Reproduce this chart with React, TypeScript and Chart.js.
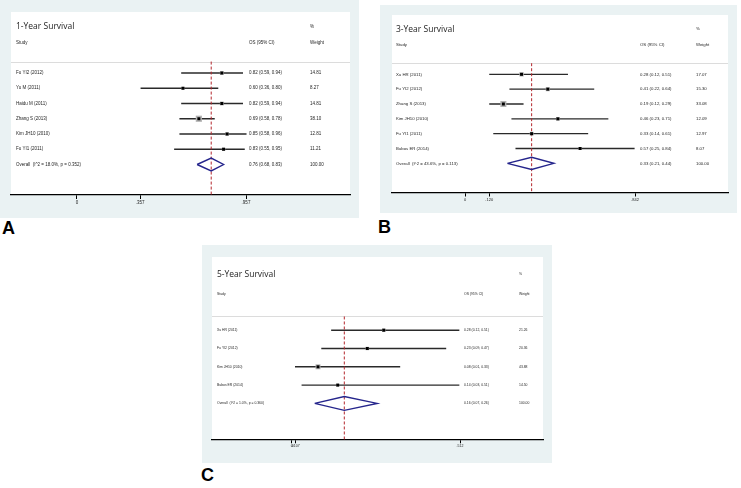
import React, { useEffect, useRef } from "react";
import { Chart, registerables } from "chart.js";

Chart.register(...registerables);

// ---------- Panel A: 1-Year Survival ----------
const A_TITLE = "1-Year Survival";
const A_STUDIES = ["Fu YI2 (2012)", "Yu M (2011)", "Haidu M (2011)", "Zhang S (2013)", "Kim JH10 (2010)", "Fu YI1 (2011)"];
const A_OS = [0.82, 0.6, 0.82, 0.69, 0.85, 0.83];
const A_LO = [0.59, 0.36, 0.59, 0.58, 0.58, 0.55];
const A_HI = [0.94, 0.8, 0.94, 0.78, 0.96, 0.95];
const A_WEIGHT = [14.81, 8.27, 14.81, 38.1, 12.81, 11.21];
const A_OVERALL = [0.76, 0.68, 0.83];
const A_OVERALL_LABEL = "Overall  (I^2 = 18.0%, p = 0.352)";
const A_TICKS = [0, 0.357, 0.957];
const A_TICK_LABELS = ["0", ".357", ".957"];

// ---------- Panel B: 3-Year Survival ----------
const B_TITLE = "3-Year Survival";
const B_STUDIES = ["Xu HR (2011)", "Fu YI2 (2012)", "Zhang S (2013)", "Kim JH10 (2010)", "Fu YI1 (2011)", "Bubos ER (2014)"];
const B_OS = [0.28, 0.41, 0.19, 0.46, 0.33, 0.57];
const B_LO = [0.12, 0.22, 0.12, 0.23, 0.14, 0.25];
const B_HI = [0.51, 0.64, 0.29, 0.71, 0.61, 0.84];
const B_WEIGHT = [17.07, 15.3, 33.08, 12.09, 12.97, 8.07];
const B_OVERALL = [0.33, 0.21, 0.44];
const B_OVERALL_LABEL = "Overall  (I^2 = 43.6%, p = 0.113)";
const B_TICKS = [0, 0.12, 0.842];
const B_TICK_LABELS = ["0", ".120", ".842"];

// ---------- Panel C: 5-Year Survival ----------
const C_TITLE = "5-Year Survival";
const C_STUDIES = ["Xu HR (2011)", "Fu YI2 (2012)", "Kim JH10 (2010)", "Bubos ER (2014)"];
const C_OS = [0.28, 0.23, 0.08, 0.14];
const C_LO = [0.12, 0.09, 0.01, 0.03];
const C_HI = [0.51, 0.47, 0.33, 0.51];
const C_WEIGHT = [21.26, 20.36, 43.88, 14.5];
const C_OVERALL = [0.16, 0.07, 0.26];
const C_OVERALL_LABEL = "Overall  (I^2 = 1.0%, p = 0.360)";
const C_TICKS = [0, 0.0107, 0.512];
const C_TICK_LABELS = ["0", ".0107", ".512"];

const BG = "rgb(234,242,243)";
const TEXT_FONT = '"Liberation Sans", Arial, sans-serif';
const TITLE_FONT = '"Open Sans", "Noto Sans", sans-serif';

type Layout = {
  left: number; top: number; width: number; height: number;
  padL: number; padR: number; padT: number; axisH: number;
  xMin: number; xMax: number;
  osX: number; wX: number; textX: number;
  titleSize: number; textSize: number; tickSize: number; tickLen: number;
  boxK: number; diamondH: number;
};

type Spec = {
  title: string; studies: string[]; os: number[]; lo: number[]; hi: number[]; weight: number[];
  overall: number[]; overallLabel: string; ticks: number[]; tickLabels: string[]; layout: Layout;
};

const PANELS: Spec[] = [
  {
    title: A_TITLE, studies: A_STUDIES, os: A_OS, lo: A_LO, hi: A_HI, weight: A_WEIGHT,
    overall: A_OVERALL, overallLabel: A_OVERALL_LABEL, ticks: A_TICKS, tickLabels: A_TICK_LABELS,
    layout: { left: 0, top: 0, width: 359, height: 218, padL: 11, padR: 9, padT: 12, axisH: 23,
      xMin: -0.3737, xMax: 1.5459, osX: 238, wX: 299, textX: 5,
      titleSize: 8.5, textSize: 4.5, tickSize: 4.5, tickLen: 4, boxK: 1.0, diamondH: 0.42 },
  },
  {
    title: B_TITLE, studies: B_STUDIES, os: B_OS, lo: B_LO, hi: B_HI, weight: B_WEIGHT,
    overall: B_OVERALL, overallLabel: B_OVERALL_LABEL, ticks: B_TICKS, tickLabels: B_TICK_LABELS,
    layout: { left: 380, top: 5, width: 357, height: 208, padL: 12, padR: 9, padT: 10, axisH: 20,
      xMin: -0.3616, xMax: 1.3026, osX: 248, wX: 304, textX: 4,
      titleSize: 8.5, textSize: 4.3, tickSize: 4, tickLen: 3.5, boxK: 1.05, diamondH: 0.41 },
  },
  {
    title: C_TITLE, studies: C_STUDIES, os: C_OS, lo: C_LO, hi: C_HI, weight: C_WEIGHT,
    overall: C_OVERALL, overallLabel: C_OVERALL_LABEL, ticks: C_TICKS, tickLabels: C_TICK_LABELS,
    layout: { left: 202, top: 245, width: 350, height: 218, padL: 10, padR: 9, padT: 12, axisH: 23,
      xMin: -0.2425, xMax: 0.7645, osX: 252, wX: 307, textX: 5,
      titleSize: 8.5, textSize: 3.4, tickSize: 3.5, tickLen: 3.3, boxK: 0.75, diamondH: 0.38 },
  },
];

const TITLE_ROW = -3.05;
const HEADER_ROW = -2;
const SEP_ROW = -0.75;
const Y_TOP = -4;

function fmtCI(e: number, l: number, h: number) {
  return `${e.toFixed(2)} (${l.toFixed(2)}, ${h.toFixed(2)})`;
}

function ForestPanel({ spec }: { spec: Spec }) {
  const ref = useRef<HTMLCanvasElement>(null);
  const L = spec.layout;

  useEffect(() => {
    if (!ref.current) return;
    const n = spec.studies.length;
    const ovRow = n;
    const yMax = n + 2;
    const rows = spec.os.map((v, i) => ({ x: v, y: i }));
    const [ovE, ovL, ovH] = spec.overall;

    const datasets: any[] = [
      {
        label: "points", data: rows, pointStyle: "rect", pointRadius: 2.1, pointHoverRadius: 2.1,
        backgroundColor: "#000", borderWidth: 0, showLine: false, order: 0,
      },
      {
        label: "boxes", data: rows, pointStyle: "rect",
        pointRadius: spec.weight.map((w) => (L.boxK * Math.sqrt(w)) / Math.SQRT2),
        pointHoverRadius: spec.weight.map((w) => (L.boxK * Math.sqrt(w)) / Math.SQRT2),
        backgroundColor: "#b2b2b2", borderWidth: 0, showLine: false, order: 1,
      },
      {
        label: "overall", showLine: true, order: 1,
        data: [
          { x: ovL, y: ovRow }, { x: ovE, y: ovRow - L.diamondH }, { x: ovH, y: ovRow },
          { x: ovE, y: ovRow + L.diamondH }, { x: ovL, y: ovRow },
        ],
        borderColor: "#25258c", borderWidth: 1.4, pointRadius: 0, fill: false, tension: 0,
        borderJoinStyle: "miter",
      },
      {
        label: "ref", showLine: true, order: 1.5,
        data: [{ x: ovE, y: SEP_ROW }, { x: ovE, y: yMax }],
        borderColor: "#b3262c", borderWidth: 1, borderDash: [3, 2], pointRadius: 0,
      },
    ];
    spec.lo.forEach((lo, i) => {
      datasets.push({
        label: "ci" + i, showLine: true, order: 2,
        data: [{ x: lo, y: i }, { x: spec.hi[i], y: i }],
        borderColor: "#2a2a2a", borderWidth: 1.4, pointRadius: 0,
      });
    });

    const plugin = {
      id: "forestText",
      beforeDraw(chart: any) {
        const { ctx, chartArea: ca, width, height } = chart;
        ctx.save();
        ctx.fillStyle = BG;
        ctx.fillRect(0, 0, width, height);
        ctx.fillStyle = "#fff";
        ctx.fillRect(ca.left, ca.top, ca.right - ca.left, ca.bottom - ca.top);
        const ys = Math.round(chart.scales.y.getPixelForValue(SEP_ROW)) + 0.5;
        ctx.strokeStyle = "#dcdcdc";
        ctx.lineWidth = 1;
        ctx.beginPath();
        ctx.moveTo(ca.left, ys);
        ctx.lineTo(ca.right, ys);
        ctx.stroke();
        ctx.restore();
      },
      afterDraw(chart: any) {
        const { ctx, chartArea: ca } = chart;
        const y = (r: number) => chart.scales.y.getPixelForValue(r);
        const xT = ca.left + L.textX;
        const xO = ca.left + L.osX;
        const xW = ca.left + L.wX;
        ctx.save();
        ctx.textBaseline = "middle";
        ctx.textAlign = "left";
        ctx.fillStyle = "#1e1e1e";
        ctx.font = `${L.titleSize}px ${TITLE_FONT}`;
        ctx.fillText(spec.title, xT, y(TITLE_ROW));
        ctx.font = `${L.textSize}px ${TEXT_FONT}`;
        ctx.fillText("%", xW, y(TITLE_ROW));
        ctx.fillText("Study", xT, y(HEADER_ROW));
        ctx.fillText("OS (95% CI)", xO, y(HEADER_ROW));
        ctx.fillText("Weight", xW, y(HEADER_ROW));
        spec.studies.forEach((s, i) => {
          ctx.fillText(s, xT, y(i));
          ctx.fillText(fmtCI(spec.os[i], spec.lo[i], spec.hi[i]), xO, y(i));
          ctx.fillText(spec.weight[i].toFixed(2), xW, y(i));
        });
        ctx.fillText(spec.overallLabel, xT, y(ovRow));
        ctx.fillText(fmtCI(ovE, ovL, ovH), xO, y(ovRow));
        ctx.fillText((100).toFixed(2), xW, y(ovRow));
        ctx.restore();
      },
    };

    const chart = new Chart(ref.current, {
      type: "scatter",
      data: { datasets },
      options: {
        animation: false,
        responsive: false,
        maintainAspectRatio: false,
        events: [],
        layout: { padding: { left: L.padL, right: L.padR, top: L.padT, bottom: 0 } },
        plugins: { legend: { display: false }, tooltip: { enabled: false }, title: { display: false } },
        scales: {
          x: {
            type: "linear",
            min: L.xMin,
            max: L.xMax,
            afterBuildTicks: (scale: any) => {
              scale.ticks = spec.ticks.map((v) => ({ value: v }));
            },
            afterFit: (scale: any) => {
              scale.height = L.axisH;
            },
            ticks: {
              autoSkip: false,
              maxRotation: 0,
              minRotation: 0,
              padding: 1,
              color: "#222",
              font: { size: L.tickSize, family: TEXT_FONT },
              callback: (_v: any, i: number) => spec.tickLabels[i],
            },
            grid: {
              display: true,
              drawOnChartArea: false,
              drawTicks: true,
              tickLength: L.tickLen,
              color: "#000",
              lineWidth: 1,
            },
            border: { display: true, color: "#000", width: 1.3 },
          },
          y: {
            type: "linear",
            display: false,
            reverse: true,
            min: Y_TOP,
            max: yMax,
          },
        },
      } as any,
      plugins: [plugin],
    });
    return () => chart.destroy();
  }, [spec]);

  return (
    <canvas
      ref={ref}
      width={L.width}
      height={L.height}
      style={{ position: "absolute", left: L.left, top: L.top, width: L.width, height: L.height, display: "block" }}
    />
  );
}

const LETTERS = [
  { t: "A", left: 2, top: 218.6 },
  { t: "B", left: 378, top: 217.6 },
  { t: "C", left: 201, top: 465.6 },
];

export default function App() {
  return (
    <div style={{ position: "absolute", left: 0, top: 0, width: 741, height: 488, background: "#fff", overflow: "hidden" }}>
      {PANELS.map((p, i) => (
        <ForestPanel key={i} spec={p} />
      ))}
      {LETTERS.map((l) => (
        <div
          key={l.t}
          style={{
            position: "absolute", left: l.left, top: l.top, font: 'bold 18px "Liberation Sans", Arial, sans-serif',
            lineHeight: "18px", color: "#000",
          }}
        >
          {l.t}
        </div>
      ))}
    </div>
  );
}
